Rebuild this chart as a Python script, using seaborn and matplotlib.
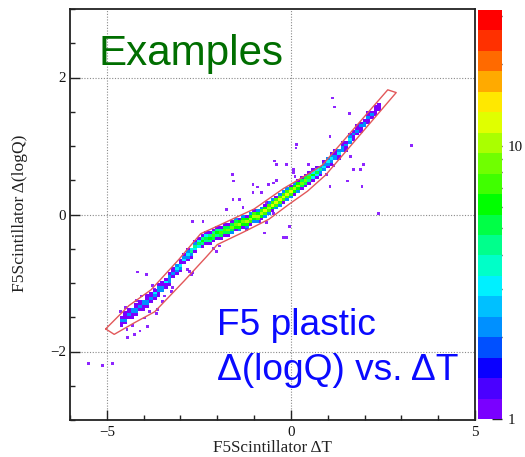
import numpy as np
import matplotlib
matplotlib.use("Agg")
import matplotlib.pyplot as plt
from matplotlib.colors import ListedColormap, LogNorm
from matplotlib.ticker import MultipleLocator, FixedLocator, NullFormatter, FixedFormatter
import seaborn as sns

# ---------------- data ----------------
# band columns (x centre of each 0.1-wide column) and band centre y
col_x = [-4.6, -4.5, -4.4, -4.3, -4.2, -4.1, -4.0, -3.9, -3.8, -3.7,
         -3.6, -3.5, -3.4, -3.3, -3.2, -3.1, -3.0, -2.9, -2.8, -2.7,
         -2.6, -2.5, -2.4, -2.3, -2.2, -2.1, -2.0, -1.9, -1.8, -1.7,
         -1.6, -1.5, -1.4, -1.3, -1.2, -1.1, -1.0, -0.9, -0.8, -0.7,
         -0.6, -0.5, -0.4, -0.3, -0.2, -0.1, 0.0, 0.1, 0.2, 0.3,
         0.4, 0.5, 0.6, 0.7, 0.8, 0.9, 1.0, 1.1, 1.2, 1.3,
         1.4, 1.5, 1.6, 1.7, 1.8, 1.9, 2.0, 2.1, 2.2, 2.3,
         2.4]
col_y = [-1.55, -1.52, -1.48, -1.44, -1.40, -1.35, -1.31, -1.27, -1.22, -1.16,
         -1.11, -1.05, -0.99, -0.93, -0.86, -0.80, -0.73, -0.66, -0.60, -0.53,
         -0.47, -0.43, -0.39, -0.36, -0.33, -0.30, -0.28, -0.26, -0.23, -0.21,
         -0.18, -0.16, -0.14, -0.12, -0.10, -0.07, -0.04, -0.01, 0.02, 0.05,
         0.08, 0.12, 0.16, 0.21, 0.25, 0.29, 0.33, 0.37, 0.41, 0.45,
         0.49, 0.52, 0.56, 0.61, 0.66, 0.71, 0.76, 0.81, 0.86, 0.90,
         0.96, 1.02, 1.09, 1.16, 1.22, 1.28, 1.34, 1.40, 1.46, 1.52,
         1.57]
# counts in the five y-bins of each column (below .. above the band centre)
n_lo2 = [1, 1, 0, 1, 1, 0, 1, 1, 0, 1,
         1, 0, 1, 1, 0, 1, 1, 0, 1, 1,
         1, 0, 1, 1, 1, 1, 1, 1, 1, 1,
         2, 1, 2, 1, 2, 1, 2, 2, 1, 2,
         2, 1, 2, 2, 1, 2, 2, 1, 2, 1,
         1, 1, 1, 1, 1, 0, 1, 1, 0, 1,
         0, 1, 0, 1, 0, 1, 0, 1, 0, 1,
         0]
n_lo1 = [1, 2, 1, 1, 2, 1, 1, 2, 1, 2,
         1, 2, 1, 2, 1, 2, 2, 1, 2, 2,
         3, 3, 4, 4, 4, 5, 4, 5, 5, 5,
         5, 6, 6, 6, 6, 7, 6, 7, 6, 7,
         7, 6, 7, 7, 7, 7, 7, 6, 6, 5,
         5, 4, 3, 3, 2, 2, 2, 2, 2, 1,
         2, 1, 2, 1, 1, 1, 2, 1, 1, 1,
         1]
n_mid = [2, 1, 2, 2, 2, 2, 2, 2, 2, 3,
         2, 2, 3, 2, 2, 3, 3, 3, 3, 4,
         4, 5, 6, 5, 6, 7, 6, 7, 7, 8,
         8, 9, 10, 9, 11, 10, 11, 10, 11, 12,
         11, 12, 13, 12, 12, 13, 12, 11, 10, 9,
         8, 7, 6, 5, 4, 3, 3, 3, 2, 3,
         2, 2, 3, 2, 2, 2, 2, 2, 2, 1,
         1]
n_hi1 = [1, 1, 1, 2, 1, 1, 2, 1, 1, 1,
         2, 1, 1, 2, 1, 2, 1, 2, 2, 3,
         2, 3, 4, 3, 4, 4, 4, 4, 5, 5,
         5, 5, 6, 6, 6, 6, 7, 6, 7, 6,
         7, 7, 7, 7, 7, 7, 7, 6, 6, 5,
         5, 4, 3, 3, 2, 2, 2, 2, 1, 2,
         1, 1, 2, 1, 1, 1, 1, 1, 1, 1,
         1]
n_hi2 = [0, 1, 1, 0, 1, 1, 0, 1, 1, 0,
         1, 1, 0, 1, 1, 0, 1, 1, 1, 0,
         1, 1, 1, 1, 1, 1, 1, 1, 1, 1,
         1, 2, 1, 2, 1, 2, 1, 2, 2, 1,
         2, 2, 1, 2, 2, 2, 1, 2, 1, 1,
         1, 1, 1, 1, 0, 1, 0, 1, 1, 0,
         1, 0, 1, 0, 1, 0, 0, 1, 0, 0,
         0]
# isolated single entries
out_x = [1.13, 1.18, 1.59, 3.27, 2.38, -5.49, -5.11, -4.84, -4.25, -4.43,
         -4.16, -3.93, -3.71, -3.48, -3.21, -3.98, -3.62, -2.75, -2.70, -1.59,
         -1.55, -2.68, -2.39, -0.21, -0.12, -0.03, 0.16, 0.14, -0.44, -0.39,
         0.06, 0.11, -0.12, 0.06, 1.06, 1.97, 1.93, 1.54, 1.15, 1.70,
         1.88, 1.61, 0.47, 0.97, 1.06, -1.03, -0.90, -0.60, -0.48, -0.40,
         -1.03, -0.80, -0.71, -0.84, -0.66, -1.20, -1.93, -2.02, -2.10, -1.57,
         -1.75, -1.39, -0.66, -0.48, -1.30, -2.66, -2.80, -3.43, -3.25, -3.66,
         -3.89, -4.10, -4.50, -4.30, -4.05, -3.85, -4.45, -3.75, -4.20, -4.62]
out_y = [1.70, 1.57, 1.48, 1.01, 0.02, -2.17, -2.21, -2.17, -1.75, -1.80,
         -0.84, -0.88, -1.09, -1.27, -1.07, -1.51, -1.39, -0.83, -0.88, 0.58,
         0.49, -0.10, -0.10, -0.34, -0.34, -0.17, 1.02, 0.97, 0.78, 0.73,
         0.66, 0.56, 0.73, 0.61, 1.14, 0.73, 0.41, 0.49, 0.71, 0.66,
         0.66, 0.85, 0.73, 0.58, 0.41, 0.44, 0.40, 0.44, 0.46, 0.50,
         0.32, 0.32, -0.27, -0.10, -0.12, -0.22, -0.46, -0.54, -0.50, 0.22,
         0.07, 0.22, 0.17, 0.02, 0.10, -0.85, -0.80, -1.19, -1.12, -1.44,
         -1.63, -1.70, -1.36, -1.62, -1.19, -1.42, -1.68, -1.04, -1.26, -1.42]
# graphical cut (gate) polygon
gate_x = [-5.03, -4.40, -3.80, -3.05, -2.45, -2.20, -1.00, -0.20, 0.50, 0.85,
          2.63, 2.86, 0.95, 0.45, -0.05, -0.60, -1.30, -2.00, -2.30, -2.90,
          -3.70, -4.25, -4.80, -5.03]
gate_y = [-1.67, -1.33, -1.10, -0.66, -0.28, -0.22, 0.08, 0.38, 0.60, 0.72,
          1.82, 1.78, 0.58, 0.34, 0.15, -0.07, -0.26, -0.44, -0.62, -0.97,
          -1.42, -1.58, -1.75, -1.67]
z_min, z_max = 1, 31.5

# ---------------- styling ----------------
sns.set_style("white")
plt.rcParams['font.family'] = ['Liberation Serif', 'DejaVu Serif']
plt.rcParams['axes.unicode_minus'] = True

palette = ['#7a00ff', '#4a00ff', '#0a00ff', '#0050ff', '#0090ff',
           '#00c0ff', '#00f0ff', '#00ffc8', '#00ff8c', '#00ff46',
           '#00ff00', '#40ff00', '#70ff00', '#aaff00', '#e0ff00',
           '#ffe800', '#ffaa00', '#ff6a00', '#ff3000', '#ff0000']
cmap = ListedColormap(palette)

W, H = 525, 457
fig = plt.figure(figsize=(W / 100, H / 100), dpi=100)
ax = fig.add_axes([70 / W, 1 - 420 / H, 405 / W, 411 / H])

offsets = [-0.08, -0.04, 0.0, 0.04, 0.08]
cell_x, cell_y, cell_n = [], [], []
for cx, cy, *ns in zip(col_x, col_y, n_lo2, n_lo1, n_mid, n_hi1, n_hi2):
    for off, n in zip(offsets, ns):
        if n > 0:
            cell_x.append(cx)
            cell_y.append(cy + off)
            cell_n.append(n)

xedges = np.arange(-6.05, 5.06, 0.1)
yedges = np.arange(-3.005, 3.04, 0.04)

sns.histplot(x=cell_x, y=cell_y, weights=cell_n, bins=(xedges, yedges),
             cmap=cmap, ax=ax, cbar=False)
mesh = ax.collections[-1]
mesh.set_cmap(cmap)
mesh.set_norm(LogNorm(vmin=z_min, vmax=z_max))

# single-count entries, coloured by the same log scale
sns.scatterplot(x=out_x, y=out_y, hue=[1] * len(out_x), palette=cmap,
                hue_norm=LogNorm(vmin=z_min, vmax=z_max), marker='s', s=4,
                linewidth=0, alpha=0.85, legend=False, ax=ax)

sns.lineplot(x=gate_x, y=gate_y, sort=False, estimator=None,
             color='#e2585a', lw=1.0, ax=ax)

ax.set_xlim(-6, 5)
ax.set_ylim(-3, 3)
ax.xaxis.set_major_locator(MultipleLocator(5))
ax.xaxis.set_minor_locator(MultipleLocator(1))
ax.yaxis.set_major_locator(MultipleLocator(2))
ax.yaxis.set_minor_locator(MultipleLocator(0.5))
ax.grid(True, which='major', ls=(0, (1, 1.5)), color='#8a8a8a', lw=0.8)
ax.set_axisbelow(True)
ax.tick_params(which='both', direction='in', top=False, right=False,
               bottom=True, left=True, colors='#222222', labelcolor='#111111',
               labelsize=10.8)
ax.tick_params(which='major', length=7, width=1.0)
ax.tick_params(which='minor', length=3.5, width=1.0)
ax.tick_params(axis='x', pad=4.5)
ax.tick_params(axis='y', pad=3)
for s in ax.spines.values():
    s.set_visible(True)
    s.set_linewidth(1.3)
    s.set_color('#222222')

ax.set_xlabel("F5Scintillator ΔT", fontsize=12.3, color='#222222')
ax.set_ylabel("F5Scintillator Δ(logQ)", fontsize=12.6, color='#222222')
ax.xaxis.label.set_va('center')
ax.yaxis.label.set_va('center')
ax.xaxis.set_label_coords(0.5, (420 - 448) / 411)
ax.yaxis.set_label_coords((20 - 70) / 405, (420 - 213) / 411)

# colour palette axis
cax = fig.add_axes([478 / W, 1 - 419 / H, 24 / W, 409 / H])
cb = fig.colorbar(mesh, cax=cax)
cb.outline.set_visible(False)
cax.yaxis.set_major_locator(FixedLocator([1, 10]))
cax.yaxis.set_major_formatter(FixedFormatter(['1', '10']))
cax.yaxis.set_minor_locator(FixedLocator([2, 3, 4, 5, 6, 7, 8, 9, 20, 30]))
cax.yaxis.set_minor_formatter(NullFormatter())
cax.tick_params(which='both', direction='in', right=True, left=False,
                colors='#222222', labelcolor='#111111', labelsize=10.8, pad=4)
cax.tick_params(which='major', length=7, width=1.0)
cax.tick_params(which='minor', length=4, width=1.0)

# overlay annotations
fig.text(99 / W, 1 - 65 / H, "Examples", color='#006e00', fontsize=30.3,
         family='Liberation Sans', ha='left', va='baseline')
fig.text(217 / W, 1 - 335 / H, "F5 plastic", color='#0a0aff', fontsize=26.7,
         family='Liberation Sans', ha='left', va='baseline')
fig.text(217 / W, 1 - 380 / H, "Δ(logQ) vs. ΔT", color='#0a0aff', fontsize=26.7,
         family='Liberation Sans', ha='left', va='baseline')

fig.savefig("out.png", dpi=100)
